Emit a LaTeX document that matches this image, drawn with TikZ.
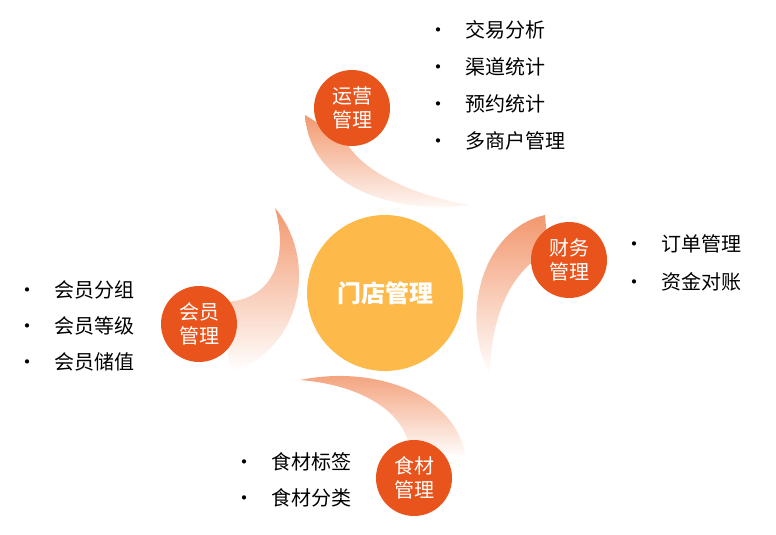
\documentclass[tikz,border=0pt]{standalone}
\usepackage{fontspec}
\setmainfont{Noto Sans CJK SC}
\definecolor{ctr}{HTML}{FDB94A}
\definecolor{sml}{HTML}{E8541C}
\definecolor{sw}{HTML}{F2986E}
\begin{document}
\begin{tikzpicture}[x=0.75pt,y=-0.75pt,
  small/.style={circle,fill=sml,minimum size=57pt,inner sep=0pt,text=white,font=\fontsize{15}{18}\selectfont,align=center},
  item/.style={anchor=west,font=\fontsize{15}{18}\selectfont,inner sep=0pt}]
\useasboundingbox (0,0) rectangle (776,535);
% swooshes
\shade[shading angle=-60,top color=sw,bottom color=white] (305,115) .. controls (310,190) and (400,215) .. (470,205) .. controls (410,195) and (360,170) .. (345,140) -- cycle;
\shade[shading angle=30,top color=sw,bottom color=white] (545,215) .. controls (480,230) and (460,320) .. (490,375) .. controls (490,320) and (510,270) .. (548,252) -- cycle;
\shade[shading angle=150,top color=sw,bottom color=white] (230,372) .. controls (300,352) and (320,262) .. (275,208) .. controls (290,262) and (270,302) .. (222,302) -- cycle;
\shade[shading angle=210,top color=sw,bottom color=white] (466,458) .. controls (456,392) and (372,365) .. (300,380) .. controls (360,385) and (400,410) .. (408,442) -- cycle;
\node[circle,fill=ctr,minimum size=117pt,inner sep=0pt,text=white,font=\fontsize{18}{20}\selectfont\bfseries] (c) at (385,293) {门店管理};
\node[small] (yy) at (352,108) {运营\\管理};
\node[small] (cw) at (569,260) {财务\\管理};
\node[small] (hy) at (199,324) {会员\\管理};
\node[small] (sc) at (414,478) {食材\\管理};
\foreach \t [count=\i] in {交易分析,渠道统计,预约统计,多商户管理}
  \node[item] (a\i) at (428,{30+37*(\i-1)}) {•\hspace{13pt}\t};
\foreach \t [count=\i] in {订单管理,资金对账}
  \node[item] (b\i) at (624,{244+38*(\i-1)}) {•\hspace{13pt}\t};
\foreach \t [count=\i] in {会员分组,会员等级,会员储值}
  \node[item] (d\i) at (17,{290+36*(\i-1)}) {•\hspace{13pt}\t};
\foreach \t [count=\i] in {食材标签,食材分类}
  \node[item] (e\i) at (234,{462+36*(\i-1)}) {•\hspace{13pt}\t};
\end{tikzpicture}
\end{document}
